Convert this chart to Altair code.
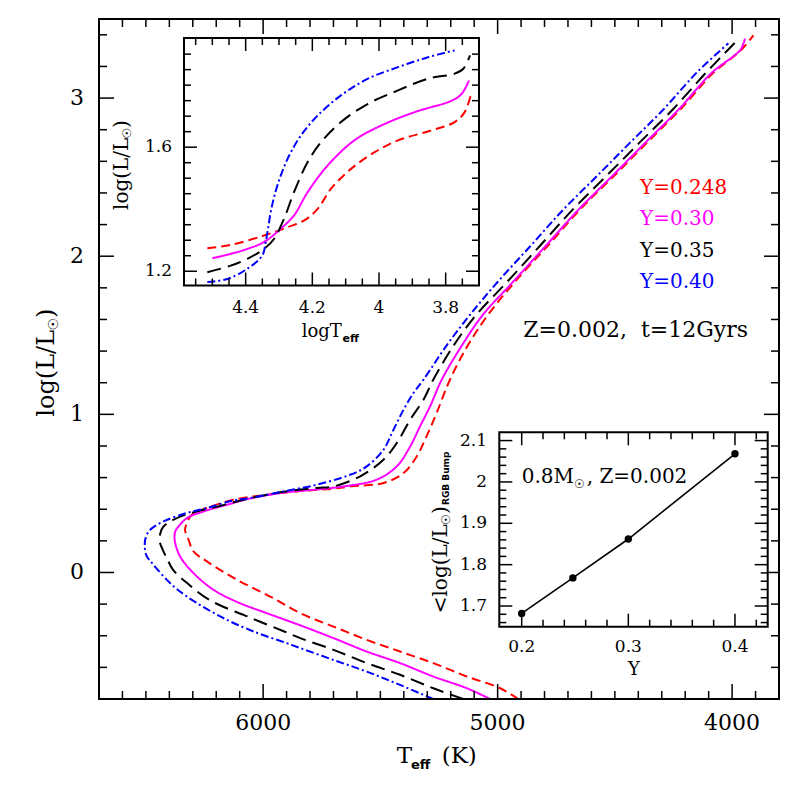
import altair as alt
import pandas as pd

# ---------------- data ----------------
series = ["Y=0.248", "Y=0.30", "Y=0.35", "Y=0.40"]
colors = ["#ff0000", "#ff00ff", "#000000", "#0000ff"]
dashes = [[9, 5], [1, 0], [14, 7], [8, 3, 2, 3]]

# main panel: isochrones (Teff [K], log L/Lsun), ordered from lower MS up to RGB tip
red_T = [4912, 4989, 5131, 5274, 5416, 5558, 5700, 5835, 5970, 6112, 6240, 6297, 6318, 6333, 6325,
         6304, 6240, 6127, 5984, 5842, 5700, 5629, 5487, 5401, 5345, 5303, 5260, 5203, 5125, 5040,
         4930, 4788, 4648, 4505, 4363, 4221, 4079, 3966, 3909]
red_L = [-0.80, -0.732, -0.658, -0.573, -0.500, -0.426, -0.342, -0.262, -0.152, -0.046, 0.070, 0.133,
         0.207, 0.270, 0.313, 0.365, 0.408, 0.460, 0.492, 0.515, 0.530, 0.544, 0.566, 0.629, 0.734,
         0.861, 1.009, 1.220, 1.441, 1.631, 1.832, 2.063, 2.296, 2.506, 2.718, 2.928, 3.161, 3.297, 3.397]
mag_T = [5032, 5131, 5274, 5416, 5558, 5700, 5842, 5970, 6112, 6212, 6297, 6354, 6375, 6378, 6374,
         6361, 6325, 6254, 6150, 6055, 5913, 5771, 5658, 5516, 5430, 5373, 5331, 5288, 5238, 5150,
         5062, 4938, 4796, 4654, 4512, 4370, 4228, 4086, 3990, 3962, 3945]
mag_L = [-0.80, -0.732, -0.658, -0.573, -0.500, -0.415, -0.334, -0.265, -0.186, -0.109, -0.004, 0.101,
         0.186, 0.228, 0.262, 0.291, 0.344, 0.386, 0.430, 0.468, 0.505, 0.525, 0.544, 0.587, 0.671,
         0.797, 0.924, 1.051, 1.220, 1.441, 1.631, 1.832, 2.063, 2.296, 2.506, 2.718, 2.928, 3.161,
         3.270, 3.310, 3.376]
blk_T = [5147, 5274, 5416, 5558, 5700, 5842, 5910, 6068, 6230, 6324, 6384, 6411, 6426, 6441, 6438,
         6425, 6368, 6283, 6200, 6055, 5913, 5771, 5700, 5586, 5487, 5430, 5373, 5316, 5274, 5185,
         5090, 4963, 4821, 4679, 4537, 4395, 4253, 4111, 3973]
blk_L = [-0.80, -0.732, -0.647, -0.573, -0.489, -0.415, -0.373, -0.278, -0.173, -0.067, 0.017, 0.091,
         0.137, 0.196, 0.250, 0.291, 0.344, 0.386, 0.415, 0.470, 0.510, 0.535, 0.544, 0.608, 0.713,
         0.819, 0.966, 1.093, 1.220, 1.441, 1.631, 1.832, 2.063, 2.296, 2.506, 2.718, 2.928, 3.161, 3.372]
blu_T = [5275, 5416, 5558, 5700, 5842, 5899, 6041, 6183, 6325, 6397, 6468, 6497, 6505, 6500, 6482,
         6425, 6326, 6240, 6127, 6055, 5913, 5771, 5629, 5558, 5487, 5444, 5401, 5359, 5316, 5215,
         5117, 5003, 4861, 4719, 4577, 4435, 4293, 4151, 4016]
blu_L = [-0.80, -0.711, -0.627, -0.553, -0.478, -0.447, -0.373, -0.278, -0.152, -0.067, 0.049, 0.105,
         0.170, 0.225, 0.270, 0.323, 0.376, 0.408, 0.455, 0.471, 0.513, 0.555, 0.618, 0.671, 0.776,
         0.903, 1.030, 1.135, 1.220, 1.441, 1.631, 1.832, 2.063, 2.296, 2.506, 2.718, 2.928, 3.161, 3.346]

# upper-left inset (logTeff, log L/Lsun)
i1_red_T = [4.515, 4.445, 4.345, 4.274, 4.224, 4.184, 4.144, 4.084, 4.013, 3.943, 3.843, 3.773, 3.743, 3.722]
i1_red_L = [1.274, 1.285, 1.315, 1.342, 1.364, 1.401, 1.466, 1.530, 1.584, 1.622, 1.654, 1.681, 1.713, 1.778]
i1_mag_T = [4.500, 4.445, 4.395, 4.345, 4.295, 4.255, 4.214, 4.154, 4.074, 3.993, 3.893, 3.782, 3.752, 3.730]
i1_mag_L = [1.242, 1.256, 1.272, 1.294, 1.337, 1.380, 1.455, 1.541, 1.622, 1.670, 1.713, 1.750, 1.772, 1.815]
i1_blk_T = [4.515, 4.445, 4.395, 4.345, 4.315, 4.285, 4.255, 4.214, 4.174, 4.114, 4.033, 3.943, 3.853,
            3.773, 3.747, 3.727]
i1_blk_L = [1.197, 1.218, 1.240, 1.272, 1.304, 1.369, 1.455, 1.552, 1.616, 1.681, 1.740, 1.783, 1.821,
            1.837, 1.853, 1.896]
i1_blu_T = [4.515, 4.455, 4.395, 4.350, 4.340, 4.333, 4.323, 4.305, 4.274, 4.234, 4.184, 4.114, 4.033,
            3.943, 3.853, 3.773]
i1_blu_L = [1.165, 1.175, 1.208, 1.251, 1.294, 1.337, 1.401, 1.476, 1.563, 1.638, 1.702, 1.767, 1.821,
            1.858, 1.890, 1.912]

# lower-right inset: RGB bump luminosity vs Y
bump_Y = [0.20, 0.248, 0.30, 0.40]
bump_L = [1.682, 1.768, 1.862, 2.068]

# tick values / labels
main_x_major = [4000, 5000, 6000]
main_x_labels = ["4000", "5000", "6000"]
main_x_minor = [t for t in range(3900, 6700, 100) if t % 1000 != 0]
main_y_major = [0, 1, 2, 3]
main_y_labels = ["0", "1", "2", "3"]
main_y_minor = [v for v in [round(-0.6 + 0.2 * k, 1) for k in range(21)] if v not in (0, 1, 2, 3)]
i1_x_major = [3.8, 4.0, 4.2, 4.4]
i1_x_labels = ["3.8", "4", "4.2", "4.4"]
i1_x_minor = [v for v in [round(3.75 + 0.05 * k, 2) for k in range(17)] if v not in i1_x_major]
i1_y_major = [1.2, 1.6]
i1_y_labels = ["1.2", "1.6"]
i1_y_minor = [v for v in [round(1.2 + 0.05 * k, 2) for k in range(1, 15)] if v != 1.6]
i2_x_major = [0.2, 0.3, 0.4]
i2_x_labels = ["0.2", "0.3", "0.4"]
i2_x_minor = [round(0.2 + 0.02 * k, 2) for k in range(12) if k % 5 != 0]
i2_y_major = [1.7, 1.8, 1.9, 2.0, 2.1]
i2_y_labels = ["1.7", "1.8", "1.9", "2", "2.1"]
i2_y_minor = [round(1.66 + 0.02 * k, 2) for k in range(23) if k % 5 != 2]

# ---------------- layout (pixels inside the plot area) ----------------
W = H = 680
I1 = dict(x0=85, x1=380, y0=19, y1=266.5)
I2 = dict(x0=400.3, x1=668.7, y0=413.3, y1=607.7)
SERIF = "DejaVu Serif"
SANS = "DejaVu Sans"


def curves(lists):
    rows = []
    for name, (T, L) in zip(series, lists):
        for i, (t, l) in enumerate(zip(T, L)):
            rows.append({"s": name, "T": t, "L": l, "i": i})
    return pd.DataFrame(rows)


def line_layer(df, xs, ys, clip):
    return alt.Chart(df).mark_line(strokeWidth=2, interpolate="catmull-rom", clip=clip).encode(
        x=alt.X("T:Q", scale=xs, axis=None),
        y=alt.Y("L:Q", scale=ys, axis=None),
        color=alt.Color("s:N", scale=alt.Scale(domain=series, range=colors), legend=None),
        strokeDash=alt.StrokeDash("s:N", scale=alt.Scale(domain=series, range=dashes), legend=None),
        detail="s:N",
        order=alt.Order("i:Q"),
    )


def xticks(vals, scale, edge, length):
    return alt.Chart(pd.DataFrame({"v": vals})).mark_rule(color="black", strokeWidth=1.5).encode(
        x=alt.X("v:Q", scale=scale, axis=None), y=alt.value(edge), y2=alt.value(edge + length))


def yticks(vals, scale, edge, length):
    return alt.Chart(pd.DataFrame({"v": vals})).mark_rule(color="black", strokeWidth=1.5).encode(
        y=alt.Y("v:Q", scale=scale, axis=None), x=alt.value(edge), x2=alt.value(edge + length))


def all_ticks(xs, ys, box, xmaj, xmin, ymaj, ymin, lmaj, lmin):
    return [
        xticks(xmaj, xs, box["y1"], -lmaj), xticks(xmin, xs, box["y1"], -lmin),
        xticks(xmaj, xs, box["y0"], lmaj), xticks(xmin, xs, box["y0"], lmin),
        yticks(ymaj, ys, box["x0"], lmaj), yticks(ymin, ys, box["x0"], lmin),
        yticks(ymaj, ys, box["x1"], -lmaj), yticks(ymin, ys, box["x1"], -lmin),
    ]


def xlabels(vals, labs, scale, ybase, size):
    return alt.Chart(pd.DataFrame({"v": vals, "t": labs})).mark_text(
        font=SERIF, fontSize=size, align="center", baseline="alphabetic", color="black").encode(
        x=alt.X("v:Q", scale=scale, axis=None), y=alt.value(ybase), text="t:N")


def ylabels(vals, labs, scale, xright, size):
    return alt.Chart(pd.DataFrame({"v": vals, "t": labs})).mark_text(
        font=SERIF, fontSize=size, align="right", baseline="middle", color="black").encode(
        y=alt.Y("v:Q", scale=scale, axis=None), x=alt.value(xright), text="t:N")


def frame(box, fill):
    kw = dict(stroke="black", strokeWidth=2)
    if fill:
        m = alt.Chart(alt.Data(values=[{}])).mark_rect(fill="white", **kw)
    else:
        m = alt.Chart(alt.Data(values=[{}])).mark_rect(filled=False, **kw)
    return m.encode(x=alt.value(box["x0"]), x2=alt.value(box["x1"]),
                    y=alt.value(box["y0"]), y2=alt.value(box["y1"]))


def txt(s, x, y, size, font=SERIF, color="black", angle=0, weight="normal", align="left"):
    return alt.Chart(alt.Data(values=[{"t": s}])).mark_text(
        font=font, fontSize=size, color=color, angle=angle, fontWeight=weight,
        align=align, baseline="alphabetic").encode(text="t:N", x=alt.value(x), y=alt.value(y))


# ---------------- main panel ----------------
mx = alt.Scale(domain=[3800, 6700], reverse=True, nice=False, zero=False)
my = alt.Scale(domain=[-0.8, 3.5], nice=False, zero=False)
MB = dict(x0=0, x1=W, y0=0, y1=H)

main_df = curves([(red_T, red_L), (mag_T, mag_L), (blk_T, blk_L), (blu_T, blu_L)])
main_lines = line_layer(main_df, mx, my, True)

main_texts = [
    txt("T", 297.7, 744.3, 23), txt("eff", 312, 749.5, 13, font=SANS, weight="bold"),
    txt("(K)", 342.7, 744.3, 23),
    txt("log(L/L", -45.5, 397.7, 24, angle=270), txt("\u2609", -41.5, 311.5, 14, font=SANS, angle=270),
    txt(")", -45.5, 299, 24, angle=270),
    txt("Y=0.248", 541, 175, 20, color=colors[0]), txt("Y=0.30", 541, 206, 20, color=colors[1]),
    txt("Y=0.35", 541, 237.7, 20, color=colors[2]), txt("Y=0.40", 541, 269.3, 20, color=colors[3]),
    txt("Z=0.002,\u00a0\u00a0t=12Gyrs", 424.3, 317.7, 22),
]
main = alt.layer(main_lines,
                 *all_ticks(mx, my, MB, main_x_major, main_x_minor, main_y_major, main_y_minor, 15, 8),
                 frame(MB, False),
                 xlabels(main_x_major, main_x_labels, mx, 711, 22),
                 ylabels(main_y_major, main_y_labels, my, -15, 22),
                 *main_texts)

# ---------------- inset 1 ----------------
i1x = alt.Scale(domain=[3.7, 4.585], range=[I1["x1"], I1["x0"]], nice=False, zero=False)
i1y = alt.Scale(domain=[1.154, 1.952], range=[I1["y1"], I1["y0"]], nice=False, zero=False)
i1_df = curves([(i1_red_T, i1_red_L), (i1_mag_T, i1_mag_L), (i1_blk_T, i1_blk_L), (i1_blu_T, i1_blu_L)])
i1_lines = line_layer(i1_df, i1x, i1y, False)
i1_texts = [
    txt("logT", 202.7, 317.7, 18), txt("eff", 243.5, 323, 11, font=SANS, weight="bold"),
    txt("log(L/L", 28.7, 191, 20, angle=270), txt("\u2609", 32, 119.5, 12, font=SANS, angle=270),
    txt(")", 28.7, 109, 20, angle=270),
]
inset1 = alt.layer(frame(I1, True), i1_lines,
                   *all_ticks(i1x, i1y, I1, i1_x_major, i1_x_minor, i1_y_major, i1_y_minor, 13, 7),
                   xlabels(i1_x_major, i1_x_labels, i1x, 294.3, 17),
                   ylabels(i1_y_major, i1_y_labels, i1y, 73, 17),
                   *i1_texts)

# ---------------- inset 2 ----------------
i2x = alt.Scale(domain=[0.179, 0.4307], range=[I2["x0"], I2["x1"]], nice=False, zero=False)
i2y = alt.Scale(domain=[1.65, 2.12], range=[I2["y1"], I2["y0"]], nice=False, zero=False)
bump_df = pd.DataFrame({"Y": bump_Y, "L": bump_L})
i2_base = alt.Chart(bump_df).encode(
    x=alt.X("Y:Q", scale=i2x, axis=None),
    y=alt.Y("L:Q", scale=i2y, axis=None),
)
i2_line = i2_base.mark_line(color="black", strokeWidth=1.6)
i2_pts = i2_base.mark_circle(color="black", size=55, opacity=1)
i2_texts = [
    txt("Y", 535, 656, 18, align="center"),
    txt("<log(L/L", 347.7, 594.3, 20, angle=270), txt("\u2609", 351, 506, 12, font=SANS, angle=270),
    txt(")", 347.7, 495, 20, angle=270),
    txt("RGB Bump", 350, 486, 9, font=SANS, weight="bold", angle=270),
    txt("0.8M", 422.7, 464.3, 20), txt("\u2609", 475, 468.5, 12, font=SANS),
    txt(", Z=0.002", 487.7, 464.3, 20),
]
inset2 = alt.layer(frame(I2, True), i2_line, i2_pts,
                   *all_ticks(i2x, i2y, I2, i2_x_major, i2_x_minor, i2_y_major, i2_y_minor, 13, 7),
                   xlabels(i2_x_major, i2_x_labels, i2x, 632.7, 17),
                   ylabels(i2_y_major, i2_y_labels, i2y, 388, 17),
                   *i2_texts)

chart = alt.layer(main, inset1, inset2).resolve_scale(
    x="independent", y="independent"
).properties(
    width=W, height=H,
    padding={"left": 91, "top": 11, "right": 10, "bottom": 80},
    autosize=alt.AutoSizeParams(type="none"),
).configure_view(strokeWidth=0)

chart.save("out.html", embed_options={"renderer": "svg", "actions": False})
